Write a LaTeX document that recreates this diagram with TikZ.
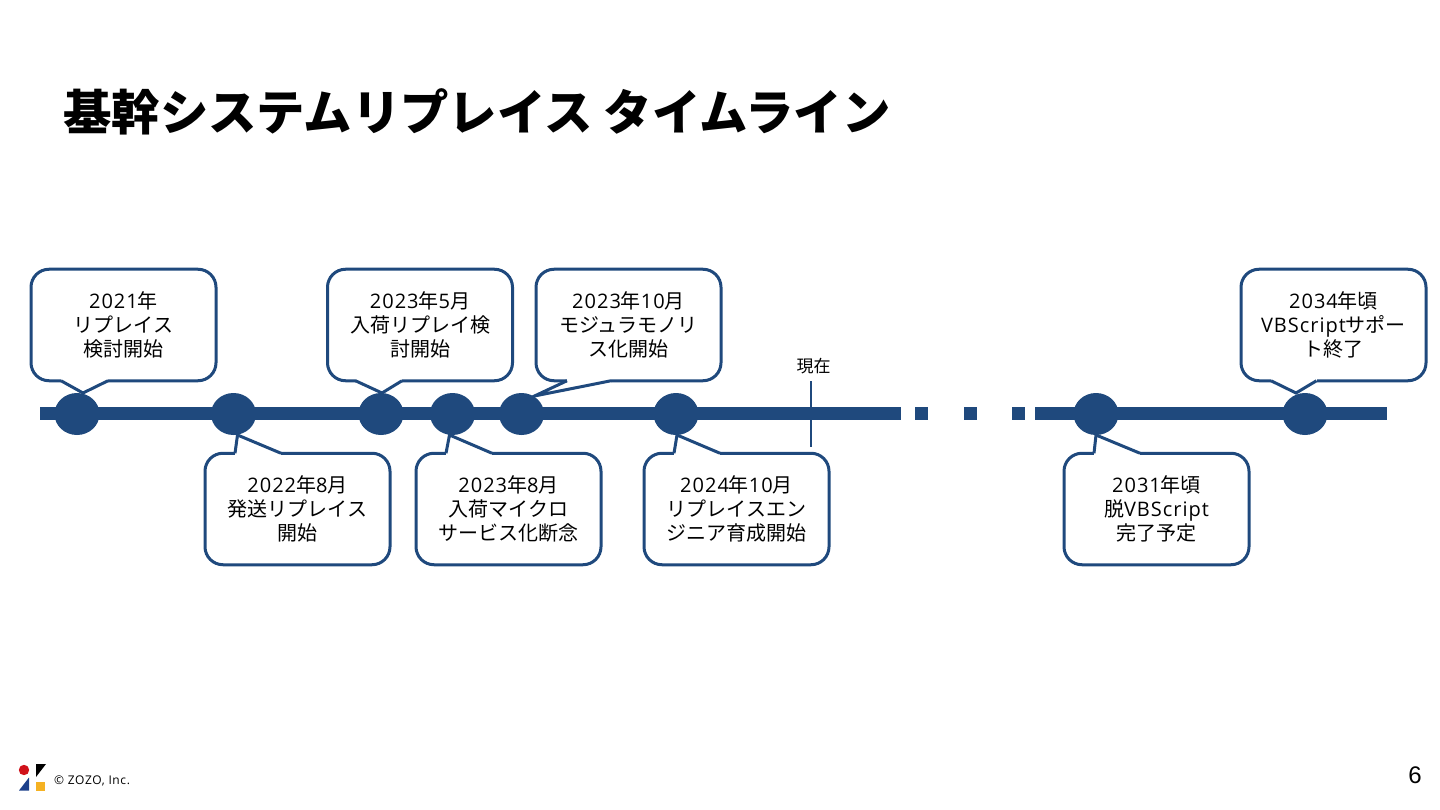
\documentclass[tikz,border=0pt]{standalone}
\usepackage{fontspec}
\setmainfont{Noto Sans CJK JP}
\newfontfamily\latinfont[LetterSpace=5]{Open Sans}
\newfontfamily\pagefont{Liberation Sans}
\usetikzlibrary{shapes.geometric}
\definecolor{lineblue}{HTML}{1F497D}
\definecolor{logored}{HTML}{D0121B}
\definecolor{logoblue}{HTML}{1B3F8B}
\definecolor{logoyellow}{HTML}{F5B223}

\newcommand{\la}[1]{{\latinfont #1}}
% white patch over the box border, then the two sides of the tail
\newcommand{\bubbletail}[5]{%
  \draw[white,line width=4pt] ([xshift=#3]#1.#2) -- ([xshift=#4]#1.#2);
  \draw[bubbleline] ([xshift=#3]#1.#2) -- #5 -- ([xshift=#4]#1.#2);
}

\tikzset{
  bubbleline/.style={draw=lineblue,line width=3pt,line join=miter},
  bubble/.style={bubbleline,fill=white,rounded corners=18pt,minimum width=185pt,minimum height=111.5pt,
    inner sep=0pt,outer sep=0pt,align=center,font=\fontsize{20}{24}\selectfont},
  timeline/.style={draw=lineblue,line width=13pt},
  eventdot/.style={ellipse,fill=lineblue,minimum width=45pt,minimum height=42pt,inner sep=0pt,outer sep=0pt},
  gapmark/.style={fill=lineblue,minimum width=13pt,minimum height=13pt,inner sep=0pt,outer sep=0pt},
}

\begin{document}
\begin{tikzpicture}[x=1pt,y=-1pt]
  \useasboundingbox (0,0) rectangle (1440,810);

  \node[anchor=west,inner sep=0pt,font=\fontsize{48.4}{52}\selectfont\bfseries] (title) at (63,112) {基幹システムリプレイス タイムライン};

  % time axis
  \coordinate (axisa) at (40,413.7);
  \coordinate (axisb) at (901,413.7);
  \coordinate (axisc) at (1035,413.7);
  \coordinate (axisd) at (1387,413.7);
  \draw[timeline] (axisa) -- (axisb);
  \draw[timeline] (axisc) -- (axisd);
  \node[gapmark] (gap1) at (921.5,413.7) {};
  \node[gapmark] (gap2) at (970,413.7) {};
  \node[gapmark] (gap3) at (1018.5,413.7) {};

  \node[eventdot] (d2021)  at (77,414) {};
  \node[eventdot] (d2022)  at (233.5,414) {};
  \node[eventdot] (d2023a) at (381,414) {};
  \node[eventdot] (d2023b) at (452.5,414) {};
  \node[eventdot] (d2023c) at (521.5,414) {};
  \node[eventdot] (d2024)  at (676,414) {};
  \node[eventdot] (d2031)  at (1096,414) {};
  \node[eventdot] (d2034)  at (1305,414) {};

  % current position
  \node[font=\fontsize{17}{18}\selectfont] (now) at (813.5,366) {現在};
  \coordinate (nowa) at (811,381);
  \coordinate (nowb) at (811,447);
  \draw[lineblue,line width=2.5pt] (nowa) -- (nowb);

  % upper boxes
  \node[bubble] (b2021)  at (123.5,325) {\la{2021}年\\リプレイス\\検討開始};
  \node[bubble] (b2023a) at (420,325) {\la{2023}年\la{5}月\\入荷リプレイ検\\討開始};
  \node[bubble] (b2023c) at (628.5,325) {\la{2023}年\la{10}月\\モジュラモノリ\\ス化開始};
  \node[bubble] (b2034)  at (1333.5,325) {\la{2034}年頃\\\la{VBScript}サポー\\ト終了};

  % lower boxes
  \node[bubble] (b2022)  at (297.5,509) {\la{2022}年\la{8}月\\発送リプレイス\\開始};
  \node[bubble] (b2023b) at (508.5,509) {\la{2023}年\la{8}月\\入荷マイクロ\\サービス化断念};
  \node[bubble] (b2024)  at (736.5,509) {\la{2024}年\la{10}月\\リプレイスエン\\ジニア育成開始};
  \node[bubble] (b2031)  at (1156.5,509) {\la{2031}年頃\\脱\la{VBScript}\\完了予定};

  \bubbletail{b2021}{south west}{30}{77}{([xshift=6]d2021.north)}
  \bubbletail{b2023a}{south west}{28}{74.5}{([xshift=1]d2023a.north)}
  \bubbletail{b2023c}{south west}{31}{75}{([xshift=13,yshift=-3]d2023c.north)}
  \bubbletail{b2034}{south west}{30}{75.5}{([xshift=-9]d2034.north)}
  \bubbletail{b2022}{north west}{30}{76}{([xshift=4]d2022.south)}
  \bubbletail{b2023b}{north west}{30}{76}{([xshift=-3]d2023b.south)}
  \bubbletail{b2024}{north west}{30}{76}{([xshift=1]d2024.south)}
  \bubbletail{b2031}{north west}{30}{76}{(d2031.south)}

  % footer
  \fill[logored] (24,770) circle (5.2);
  \fill[black] (36,764) -- (46,764) -- (36,777) -- cycle;
  \fill[logoblue] (19,790.5) -- (29,790.5) -- (29,777.5) -- cycle;
  \fill[logoyellow] (36,782) rectangle (45,790.5);
  \node[anchor=west,inner sep=0pt,font=\fontsize{12}{13}\latinfont] (copy) at (54,780.5) {© ZOZO, Inc.};
  \node[font=\fontsize{24}{26}\pagefont] (page) at (1415,775) {6};
\end{tikzpicture}
\end{document}
